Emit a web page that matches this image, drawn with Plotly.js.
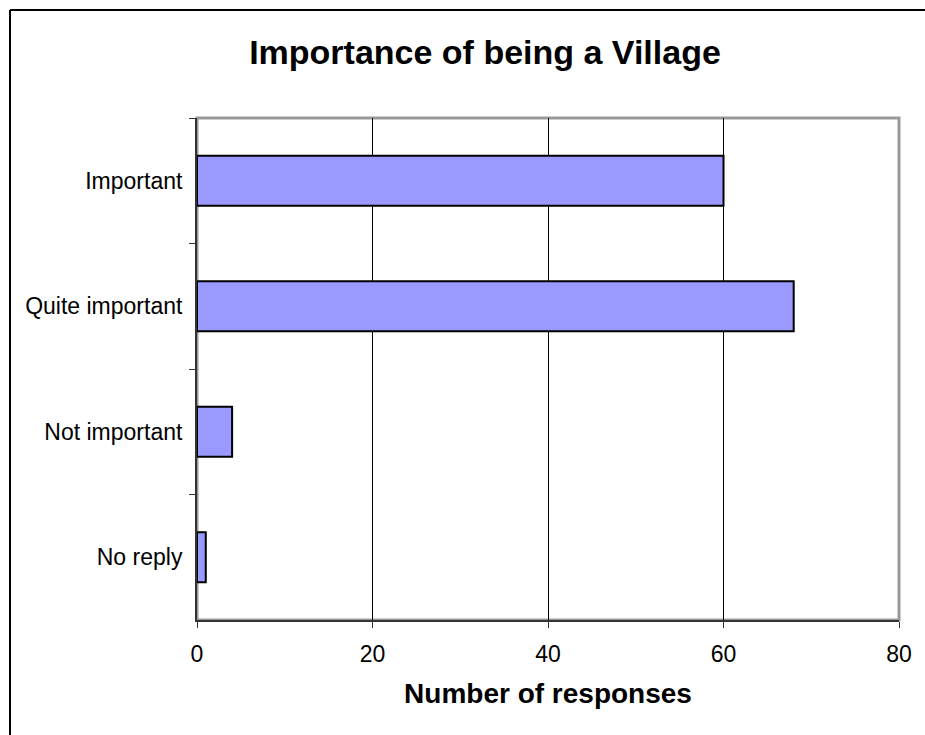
<!DOCTYPE html>
<html>
<head>
<meta charset="utf-8">
<script src="https://cdn.plot.ly/plotly-3.0.1.min.js"></script>
<style>
  html, body { margin: 0; padding: 0; background: #fff; overflow: hidden; }
  #chart { width: 925px; height: 735px; }
</style>
</head>
<body>
<div id="chart"></div>
<script>
const categories = ["Important", "Quite important", "Not important", "No reply"];
const responses = [60, 68, 4, 1];
const xTicks = [0, 20, 40, 60, 80];

const font = "Liberation Sans, Arial, sans-serif";

const trace = {
  type: "bar",
  orientation: "h",
  y: categories,
  x: responses,
  marker: { color: "#9999FF", line: { color: "#000", width: 2 } },
  hoverinfo: "x+y"
};

// outer frame (top and left edges only) in paper units
const W = 925, H = 735, ML = 197, MR = 26, MT = 118, MB = 115;
const PW = W - ML - MR, PH = H - MT - MB;
const fx = (10 - ML) / PW, fy = (H - MB - 10) / PH;
const fxEnd = (W + 10 - ML) / PW, fyEnd = (-MB - 10) / PH;

const layout = {
  width: W, height: H,
  margin: { l: ML, r: MR, t: MT, b: MB },
  paper_bgcolor: "#fff",
  plot_bgcolor: "#fff",
  bargap: 0.6,
  showlegend: false,
  font: { family: font, color: "#000", size: 23 },
  title: {
    text: "<b>Importance of being a Village</b>",
    font: { family: font, size: 34, color: "#000" },
    x: 485 / 925, xref: "container", xanchor: "center",
    y: 1 - 52 / 735, yref: "container", yanchor: "middle"
  },
  xaxis: {
    range: [0, 80],
    tickvals: xTicks,
    ticktext: xTicks.map(String),
    showgrid: true, gridcolor: "#000", gridwidth: 1,
    zeroline: false,
    showline: true, linecolor: "#333", linewidth: 2,
    ticks: "outside", ticklen: 6, tickcolor: "#333", tickwidth: 1,
    ticklabelstandoff: 6,
    tickfont: { family: font, size: 23, color: "#000" },
    title: { text: "<b>Number of responses</b>", font: { family: font, size: 28, color: "#000" }, standoff: 18 },
    fixedrange: true
  },
  yaxis: {
    type: "category",
    categoryorder: "array",
    categoryarray: categories,
    autorange: "reversed",
    showgrid: false, zeroline: false,
    showline: true, linecolor: "#333", linewidth: 2,
    ticks: "outside", ticklen: 6, tickcolor: "#333", tickwidth: 1,
    tickson: "boundaries",
    ticklabelstandoff: 8,
    tickfont: { family: font, size: 23, color: "#000" },
    fixedrange: true
  },
  shapes: [
    { type: "rect", xref: "paper", yref: "paper", x0: 0, x1: 1, y0: 0, y1: 1,
      line: { color: "#999", width: 3 }, layer: "below" },
    { type: "line", xref: "paper", yref: "paper", x0: fx, x1: fxEnd, y0: fy, y1: fy,
      line: { color: "#000", width: 2 } },
    { type: "line", xref: "paper", yref: "paper", x0: fx, x1: fx, y0: fy, y1: fyEnd,
      line: { color: "#000", width: 2 } }
  ]
};

Plotly.newPlot("chart", [trace], layout, { displayModeBar: false, staticPlot: true });
</script>
</body>
</html>
